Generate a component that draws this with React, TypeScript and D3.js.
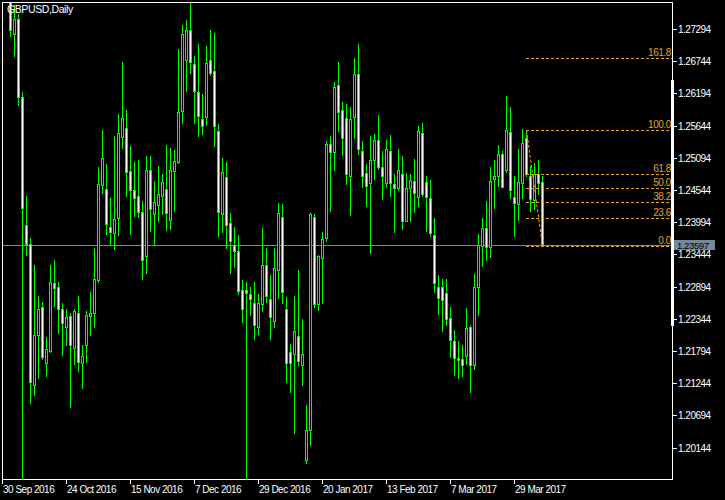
import * as d3 from "d3";

// GBPUSD daily candles (Sep 30 2016 .. Apr 7 2017)
const opens = [
  1.2975, 1.297, 1.285, 1.2721, 1.2746, 1.2614, 1.2395, 1.2363, 1.2122, 1.2206,
  1.2254, 1.2159, 1.218, 1.2295, 1.2288, 1.2252, 1.2221, 1.2239, 1.2184, 1.2245,
  1.2159, 1.2189, 1.224, 1.2244, 1.23, 1.2463, 1.2456, 1.2391, 1.2381, 1.2407,
  1.2545, 1.256, 1.2486, 1.2454, 1.2445, 1.2417, 1.2342, 1.2489, 1.2414, 1.2428,
  1.2445, 1.2456, 1.2403, 1.2486, 1.2502, 1.259, 1.2677, 1.2727, 1.2669, 1.2621,
  1.2576, 1.2579, 1.2676, 1.2657, 1.2555, 1.2414, 1.2477, 1.2398, 1.236, 1.2351,
  1.2283, 1.2283, 1.2277, 1.2262, 1.2221, 1.2259, 1.2326, 1.2269, 1.2231, 1.2318,
  1.2409, 1.2251, 1.2177, 1.2175, 1.2205, 1.2155, 1.1993, 1.2044, 1.2409, 1.2259,
  1.2339, 1.2372, 1.2533, 1.2519, 1.2634, 1.2591, 1.2577, 1.2478, 1.2579, 1.2653,
  1.2521, 1.2483, 1.2467, 1.2505, 1.254, 1.2494, 1.2466, 1.2521, 1.2465, 1.2458,
  1.2482, 1.2401, 1.2458, 1.247, 1.2442, 1.2551, 1.2468, 1.2441, 1.2377, 1.2288,
  1.2288, 1.2279, 1.2235, 1.2197, 1.2168, 1.2166, 1.2171, 1.2221, 1.2155, 1.2288,
  1.2359, 1.239, 1.2357, 1.2474, 1.2478, 1.2516, 1.2489, 1.2553, 1.2443, 1.2431,
  1.2466, 1.2543, 1.2479, 1.2438, 1.2482, 1.2468,
];
const highs = [
  1.301, 1.298, 1.2862, 1.2771, 1.2755, 1.2622, 1.2445, 1.2373, 1.2326, 1.2273,
  1.2263, 1.2203, 1.2326, 1.2335, 1.2298, 1.2261, 1.2251, 1.2245, 1.2251, 1.2273,
  1.2189, 1.2248, 1.2281, 1.2355, 1.2494, 1.2557, 1.2498, 1.244, 1.2547, 1.2584,
  1.2673, 1.2591, 1.253, 1.2502, 1.2506, 1.2436, 1.2513, 1.2513, 1.2469, 1.2496,
  1.2482, 1.2532, 1.2526, 1.2523, 1.2695, 1.2736, 1.2744, 1.2773, 1.2683, 1.2703,
  1.2619, 1.27, 1.2727, 1.2722, 1.2567, 1.2509, 1.2503, 1.2415, 1.2392, 1.2378,
  1.23, 1.2298, 1.2288, 1.2298, 1.2277, 1.2389, 1.2355, 1.2309, 1.2355, 1.2433,
  1.2431, 1.2271, 1.2192, 1.2274, 1.2318, 1.2234, 1.2088, 1.2415, 1.2414, 1.2344,
  1.2382, 1.2538, 1.2546, 1.2639, 1.2673, 1.2605, 1.2601, 1.2597, 1.2679, 1.2704,
  1.2538, 1.2499, 1.2547, 1.255, 1.2583, 1.2521, 1.254, 1.2549, 1.2481, 1.2525,
  1.2512, 1.2484, 1.2481, 1.2508, 1.2563, 1.2569, 1.2479, 1.2472, 1.2406, 1.2309,
  1.2302, 1.2302, 1.2254, 1.2215, 1.2196, 1.219, 1.2253, 1.2223, 1.2311, 1.2379,
  1.2406, 1.2436, 1.2494, 1.2506, 1.2532, 1.2521, 1.2615, 1.2597, 1.2478, 1.2525,
  1.2558, 1.2557, 1.2496, 1.25, 1.2506, 1.2479,
];
const lows = [
  1.294, 1.2845, 1.2717, 1.2683, 1.2599, 1.1841, 1.2344, 1.209, 1.2105, 1.2134,
  1.2165, 1.2136, 1.2177, 1.2256, 1.2211, 1.2172, 1.2189, 1.2084, 1.2158, 1.2146,
  1.2116, 1.216, 1.2206, 1.2221, 1.2297, 1.2449, 1.2379, 1.2362, 1.2354, 1.2378,
  1.2526, 1.2444, 1.2379, 1.241, 1.2408, 1.2302, 1.2312, 1.2384, 1.2362, 1.2401,
  1.2414, 1.2386, 1.2387, 1.2418, 1.25, 1.2569, 1.2624, 1.2654, 1.2569, 1.2547,
  1.255, 1.2566, 1.2651, 1.2529, 1.2376, 1.2382, 1.2356, 1.2313, 1.2323, 1.2277,
  1.2229, 1.195, 1.2241, 1.22, 1.2209, 1.2247, 1.2263, 1.22, 1.2221, 1.227,
  1.2261, 1.2126, 1.2109, 1.2039, 1.2155, 1.2122, 1.1988, 1.2019, 1.2255, 1.225,
  1.2261, 1.2368, 1.2418, 1.2489, 1.2555, 1.2515, 1.2465, 1.2411, 1.2543, 1.2516,
  1.2459, 1.2427, 1.2346, 1.2474, 1.2491, 1.2439, 1.2459, 1.2444, 1.2383, 1.2454,
  1.2387, 1.2401, 1.2401, 1.2416, 1.2427, 1.2445, 1.2384, 1.2375, 1.228, 1.2243,
  1.2214, 1.2224, 1.217, 1.2139, 1.2134, 1.2136, 1.2158, 1.211, 1.2148, 1.2241,
  1.2325, 1.2335, 1.234, 1.2423, 1.2462, 1.2459, 1.2485, 1.244, 1.2376, 1.2403,
  1.244, 1.2478, 1.2418, 1.2422, 1.2448, 1.2359,
];
const closes = [
  1.297, 1.285, 1.2727, 1.2746, 1.2614, 1.2424, 1.2362, 1.2126, 1.2206, 1.2252,
  1.217, 1.2183, 1.2297, 1.2287, 1.2252, 1.2228, 1.2237, 1.219, 1.2248, 1.216,
  1.2171, 1.2241, 1.2244, 1.2303, 1.2465, 1.2509, 1.2397, 1.2383, 1.2405, 1.2551,
  1.2577, 1.2485, 1.2454, 1.2441, 1.2417, 1.2335, 1.2489, 1.2422, 1.2434, 1.2448,
  1.2468, 1.2415, 1.2489, 1.2504, 1.2587, 1.272, 1.2727, 1.2673, 1.2624, 1.2581,
  1.2564, 1.2672, 1.2655, 1.2563, 1.2416, 1.2485, 1.2394, 1.2368, 1.2351, 1.2282,
  1.2252, 1.2279, 1.2269, 1.2224, 1.2261, 1.2326, 1.2274, 1.2237, 1.2322, 1.2415,
  1.2281, 1.2159, 1.2159, 1.2213, 1.2162, 1.2175, 1.2045, 1.2414, 1.2259, 1.2341,
  1.2371, 1.2533, 1.2519, 1.263, 1.2588, 1.2544, 1.2482, 1.2576, 1.2653, 1.2524,
  1.2478, 1.2462, 1.2505, 1.254, 1.2493, 1.2478, 1.2524, 1.2466, 1.2458, 1.2489,
  1.2401, 1.2458, 1.2472, 1.2449, 1.2555, 1.2448, 1.2442, 1.2381, 1.2295, 1.227,
  1.2267, 1.2234, 1.2199, 1.2167, 1.2164, 1.2155, 1.2218, 1.2155, 1.2288, 1.236,
  1.239, 1.2357, 1.247, 1.2479, 1.2516, 1.2459, 1.2557, 1.2454, 1.2432, 1.2468,
  1.2534, 1.2482, 1.2439, 1.2482, 1.2467, 1.23597,
];

// one bar per weekday, starting on Sep 30 2016
const dates = d3.timeDay
  .range(new Date(2016, 8, 30), new Date(2017, 3, 8))
  .filter((d) => d.getDay() !== 0 && d.getDay() !== 6)
  .slice(0, opens.length);

const dateTicks = [
  "2016-09-30", "2016-10-24", "2016-11-15", "2016-12-07", "2016-12-29",
  "2017-01-20", "2017-02-13", "2017-03-07", "2017-03-29",
];
const priceTicks = [
  1.27294, 1.26744, 1.26194, 1.25644, 1.25094, 1.24544, 1.23994, 1.23444,
  1.22894, 1.22344, 1.21794, 1.21244, 1.20694, 1.20144,
];

const fiboLevels = [0, 23.6, 38.2, 50, 61.8, 100, 161.8];
const fiboHigh = 1.2557;
const fiboLow = 1.2359;
const fiboFrom = "2017-04-03";
const fiboTo = "2017-04-07";
const lastPrice = 1.23597;

const W = 725;
const H = 500;
const left = 2;
const right = 672;
const top = 2;
const bottom = 479;

const FONT = "'Liberation Sans', Arial, sans-serif";
const GOLD = "#E8A12A";
const CANDLE = "#00FF00";
const BID = "#778899";

export default function App() {
  const key = d3.timeFormat("%Y-%m-%d");
  const fmt = d3.timeFormat("%-d %b %Y");
  const keys = dates.map(key);

  const x = d3
    .scaleBand<string>()
    .domain(keys)
    .range([0, keys.length * 4]);
  const cx = (k: string) => (x(k) ?? 0) + 2;

  const y = d3.scaleLinear().domain([1.19608, 1.27755]).range([bottom, top]);
  const py = (v: number) => Math.round(y(v));

  const candles = keys.map((k, i) => {
    const o = opens[i];
    const c = closes[i];
    const yo = py(o);
    const yc = py(c);
    return {
      k,
      px: cx(k),
      bull: c > o,
      hi: py(highs[i]),
      lo: py(lows[i]),
      t: Math.min(yo, yc),
      b: Math.max(yo, yc),
    };
  });

  const fx0 = cx(fiboFrom);
  const fx1 = cx(fiboTo);

  return (
    <div style={{ position: "fixed", left: 0, top: 0 }}>
      <svg width={W} height={H} style={{ display: "block", background: "#000" }}>
        <defs>
          <clipPath id="plot">
            <rect x={left + 1} y={top + 1} width={right - left - 1} height={bottom - top - 1} />
          </clipPath>
        </defs>
        <rect width={W} height={H} fill="#000" />

        <g clipPath="url(#plot)">
          {/* bid line */}
          <line
            x1={left}
            x2={right}
            y1={py(lastPrice) + 0.5}
            y2={py(lastPrice) + 0.5}
            stroke={BID}
          />

          {candles.map((d) => (
            <g key={d.k}>
              <line x1={d.px + 0.5} x2={d.px + 0.5} y1={d.hi} y2={d.lo + 1} stroke={CANDLE} />
              {d.b - d.t >= 1 ? (
                <rect
                  x={d.px - 0.5}
                  y={d.t + 0.5}
                  width={2}
                  height={d.b - d.t}
                  fill={d.bull ? "#000" : "#fff"}
                  stroke={CANDLE}
                />
              ) : (
                <line x1={d.px - 1} x2={d.px + 2} y1={d.t + 0.5} y2={d.t + 0.5} stroke={CANDLE} />
              )}
            </g>
          ))}

          {/* fibonacci retracement */}
          <line
            x1={fx0 + 0.5}
            y1={py(fiboHigh)}
            x2={fx1 + 0.5}
            y2={py(fiboLow)}
            stroke={GOLD}
            strokeDasharray="3,2"
          />
          {fiboLevels.map((lvl) => {
            const ly = py(fiboLow + ((fiboHigh - fiboLow) * lvl) / 100) + 0.5;
            return (
              <g key={lvl}>
                <line x1={fx0} x2={right} y1={ly} y2={ly} stroke={GOLD} strokeDasharray="3,2" />
                <text
                  x={right - 1}
                  y={ly - 3}
                  textAnchor="end"
                  fill={GOLD}
                  fontFamily={FONT}
                  fontSize={10}
                  letterSpacing={-0.4}
                >
                  {lvl.toFixed(1)}
                </text>
              </g>
            );
          })}
        </g>

        {/* frame */}
        <rect
          x={left + 0.5}
          y={top + 0.5}
          width={right - left}
          height={bottom - top}
          fill="none"
          stroke="#fff"
        />
        <rect x={right - 1} y={80} width={3} height={246} fill="#fff" />

        <text x={7} y={13} fill="#fff" fontFamily={FONT} fontSize={10.5} letterSpacing={-0.4}>
          GBPUSD,Daily
        </text>

        {/* price axis */}
        {priceTicks.map((v) => (
          <g key={v}>
            <line x1={right} x2={right + 5} y1={py(v) + 0.5} y2={py(v) + 0.5} stroke="#fff" />
            <text
              x={right + 6}
              y={py(v) + 4}
              fill="#fff"
              fontFamily={FONT}
              fontSize={10}
              letterSpacing={-0.5}
            >
              {v.toFixed(5)}
            </text>
          </g>
        ))}
        <rect x={right + 2} y={py(lastPrice) - 5} width={41} height={10} fill={BID} />
        <text
          x={right + 5}
          y={py(lastPrice) + 4}
          fill="#000"
          fontFamily={FONT}
          fontSize={9.5}
          letterSpacing={-0.4}
        >
          {lastPrice.toFixed(5)}
        </text>

        {/* time axis */}
        {dateTicks.map((k) => {
          const tx = cx(k);
          return (
            <g key={k}>
              <line x1={tx + 0.5} x2={tx + 0.5} y1={bottom} y2={bottom + 5} stroke="#fff" />
              <text
                x={tx + 1}
                y={493}
                fill="#fff"
                fontFamily={FONT}
                fontSize={10}
                letterSpacing={-0.5}
              >
                {fmt(d3.timeParse("%Y-%m-%d")(k) as Date)}
              </text>
            </g>
          );
        })}
      </svg>
    </div>
  );
}
